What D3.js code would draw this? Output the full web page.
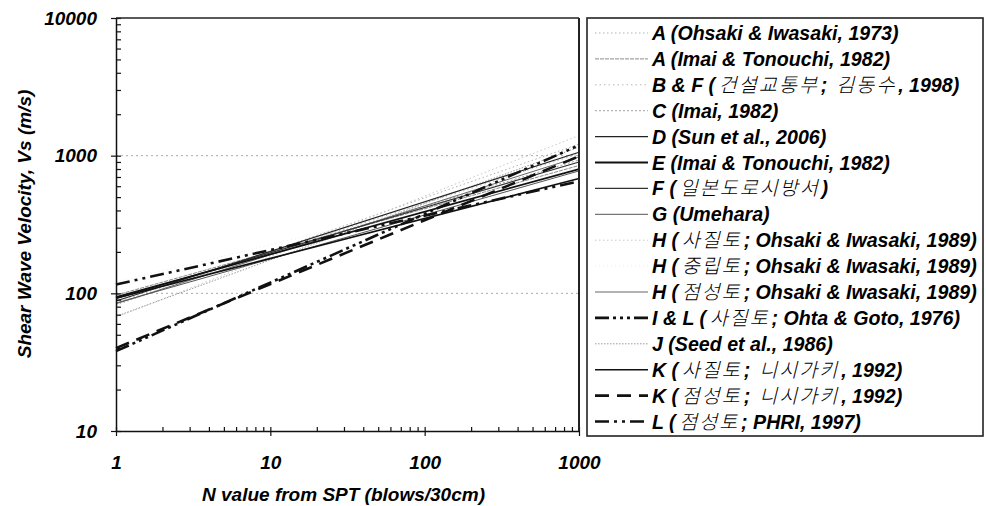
<!DOCTYPE html>
<html>
<head>
<meta charset="utf-8">
<script src="https://cdn.jsdelivr.net/npm/d3@7"></script>
<style>
  html, body { margin: 0; padding: 0; background: #fff; }
  svg text { font-family: "Liberation Sans", Arial, "Noto Sans CJK KR", sans-serif; font-weight: bold; font-style: italic; fill: #000; }
  svg text.kr { font-family: "Noto Sans CJK KR", sans-serif; font-weight: 300; font-style: normal; }
</style>
</head>
<body>
<svg id="chart" width="986" height="506"></svg>
<script>
// ---- data ----
const nValues = [1, 1000];                       // SPT N at line ends
const seriesLabels = [
  "A (Ohsaki & Iwasaki, 1973)",
  "A (Imai & Tonouchi, 1982)",
  "B & F ( 건설교통부;  김동수, 1998)",
  "C (Imai, 1982)",
  "D (Sun et al., 2006)",
  "E (Imai & Tonouchi, 1982)",
  "F ( 일본도로시방서)",
  "G (Umehara)",
  "H ( 사질토; Ohsaki & Iwasaki, 1989)",
  "H ( 중립토; Ohsaki & Iwasaki, 1989)",
  "H ( 점성토; Ohsaki & Iwasaki, 1989)",
  "I & L ( 사질토; Ohta & Goto, 1976)",
  "J (Seed et al., 1986)",
  "K ( 사질토;  니시가키, 1992)",
  "K ( 점성토;  니시가키, 1992)",
  "L ( 점성토; PHRI, 1997)"
];
const vsAtN1    = [82, 97, 86, 91, 88, 94, 92, 85, 67, 121, 84, 38, 68, 92, 40, 116];
const vsAtN1000 = [1213, 848, 1033, 930, 1058, 800, 899, 775, 1400, 782, 980, 1190, 1155, 682, 990, 652];
const xTickLabels = [1, 10, 100, 1000];
const yTickLabels = [10, 100, 1000, 10000];

// ---- styles ----
const lineStyles = [
  {c: "#b0b0b0", w: 1,   d: "1.5,2.5"},
  {c: "#8a8a8a", w: 1,   d: "4,1"},
  {c: "#b8b8b8", w: 1,   d: "1.5,3"},
  {c: "#a0a0a0", w: 1,   d: "2,2"},
  {c: "#222",    w: 1.2, d: null},
  {c: "#111",    w: 1.8, d: null},
  {c: "#333",    w: 1.2, d: null},
  {c: "#555",    w: 1,   d: null},
  {c: "#c8c8c8", w: 1,   d: "1.5,2.5"},
  {c: "#ededed", w: 1,   d: "1,3"},
  {c: "#666",    w: 1,   d: null},
  {c: "#111",    w: 2.6, d: "14,4,3,4,3,4,3,4"},
  {c: "#999",    w: 1,   d: "1.5,1.5"},
  {c: "#111",    w: 1.6, d: null},
  {c: "#111",    w: 2.6, d: "14,8"},
  {c: "#111",    w: 2.6, d: "14,5,3,5,3,5"}
];

const svg = d3.select("#chart");
const pL = 116, pR = 579, pT = 18, pB = 431;
const x = d3.scaleLog().domain([1, 1000]).range([pL, pR]);
const y = d3.scaleLog().domain([10, 10000]).range([pB, pT]);
const FS = 19, LFS = 19.6;

// gridlines at 100 and 1000
svg.append("g").selectAll("line").data([100, 1000]).join("line")
  .attr("x1", pL).attr("x2", pR)
  .attr("y1", d => y(d)).attr("y2", d => y(d))
  .attr("stroke", "#aaa").attr("stroke-width", 1).attr("stroke-dasharray", "2,3");

// series
const lineGen = d3.line().x(d => x(d[0])).y(d => y(d[1]));
const seriesData = seriesLabels.map((lab, i) => ({
  label: lab, style: lineStyles[i],
  pts: [[nValues[0], vsAtN1[i]], [nValues[1], vsAtN1000[i]]]
}));
const drawOrder = [9, 0, 2, 8, 12, 3, 1, 10, 7, 6, 4, 13, 5, 14, 11, 15];
svg.append("g").selectAll("path").data(drawOrder.map(i => seriesData[i])).join("path")
  .attr("d", s => lineGen(s.pts))
  .attr("fill", "none")
  .attr("stroke", s => s.style.c)
  .attr("stroke-width", s => s.style.w)
  .attr("stroke-dasharray", s => s.style.d);

// axes
const xMinor = [];
[1, 10, 100].forEach(dec => { for (let k = 1; k <= 9; k++) xMinor.push(k * dec); });
xMinor.push(1000);
const xAxis = d3.axisBottom(x).tickValues(xMinor)
  .tickFormat(d => xTickLabels.includes(d) ? String(d) : "")
  .tickSizeInner(-4).tickSizeOuter(0).tickPadding(24.5);
const gx = svg.append("g").attr("transform", `translate(0,${pB})`).call(xAxis);
gx.select(".domain").attr("stroke", "#111").attr("stroke-width", 1.5);
gx.selectAll(".tick line").attr("stroke", "#111").attr("stroke-width", 1.2);
gx.selectAll(".tick").filter(d => xTickLabels.includes(d)).select("line").attr("y1", 5).attr("y2", -4);
gx.selectAll("text").attr("font-size", FS);

const yMinor = [];
[10, 100, 1000].forEach(dec => { for (let k = 1; k <= 9; k++) yMinor.push(k * dec); });
yMinor.push(10000);
const yAxis = d3.axisLeft(y).tickValues(yMinor)
  .tickFormat(d => yTickLabels.includes(d) ? String(d) : "")
  .tickSizeInner(-5).tickSizeOuter(0).tickPadding(19);
const gy = svg.append("g").attr("transform", `translate(${pL},0)`).call(yAxis);
gy.select(".domain").attr("stroke", "#111").attr("stroke-width", 1.5);
gy.selectAll(".tick line").attr("stroke", "#111").attr("stroke-width", 1.2);
gy.selectAll(".tick").filter(d => yTickLabels.includes(d)).select("line").attr("x1", -5).attr("x2", 5);
gy.selectAll("text").attr("font-size", FS);

// frame top & right
svg.append("line").attr("x1", pL).attr("x2", pR).attr("y1", pT).attr("y2", pT)
  .attr("stroke", "#222").attr("stroke-width", 1.5);
svg.append("line").attr("x1", pR).attr("x2", pR).attr("y1", pT).attr("y2", pB)
  .attr("stroke", "#222").attr("stroke-width", 2);

// axis titles
svg.append("text").attr("x", 343.5).attr("y", 501).attr("text-anchor", "middle")
  .attr("font-size", FS).text("N value from SPT (blows/30cm)");
svg.append("text").attr("transform", "translate(31,224) rotate(-90)").attr("text-anchor", "middle")
  .attr("font-size", FS).text("Shear Wave Velocity, Vs (m/s)");

// legend
const lgX = 587, lgY = 18, lgW = 396, lgH = 418;
svg.append("rect").attr("x", lgX).attr("y", lgY).attr("width", lgW).attr("height", lgH)
  .attr("fill", "#fff").attr("stroke", "#222").attr("stroke-width", 1.6);
const rowH = 25.9, row0 = 33;
const lg = svg.append("g").selectAll("g").data(seriesData).join("g")
  .attr("transform", (d, i) => `translate(0,${row0 + i * rowH})`);
lg.append("line").attr("x1", 595).attr("x2", 648).attr("y1", 0).attr("y2", 0)
  .attr("stroke", d => d.style.c).attr("stroke-width", d => d.style.w)
  .attr("stroke-dasharray", d => d.style.d);
lg.each(function(d) {
  const g = d3.select(this);
  let cx = 652;
  d.label.split(/([\uAC00-\uD7A3]+)/).filter(s => s.length).forEach(part => {
    const isKr = /[\uAC00-\uD7A3]/.test(part);
    const t = g.append("text").attr("y", 0).attr("dy", "0.36em")
      .attr("font-size", LFS).attr("xml:space", "preserve").text(part);
    if (isKr) {
      t.attr("class", "kr").attr("letter-spacing", 2)
       .attr("transform", `translate(${cx},0) skewX(-14)`);
    } else {
      t.attr("transform", `translate(${cx},0)`);
    }
    cx += t.node().getComputedTextLength();
  });
});
</script>
</body>
</html>
